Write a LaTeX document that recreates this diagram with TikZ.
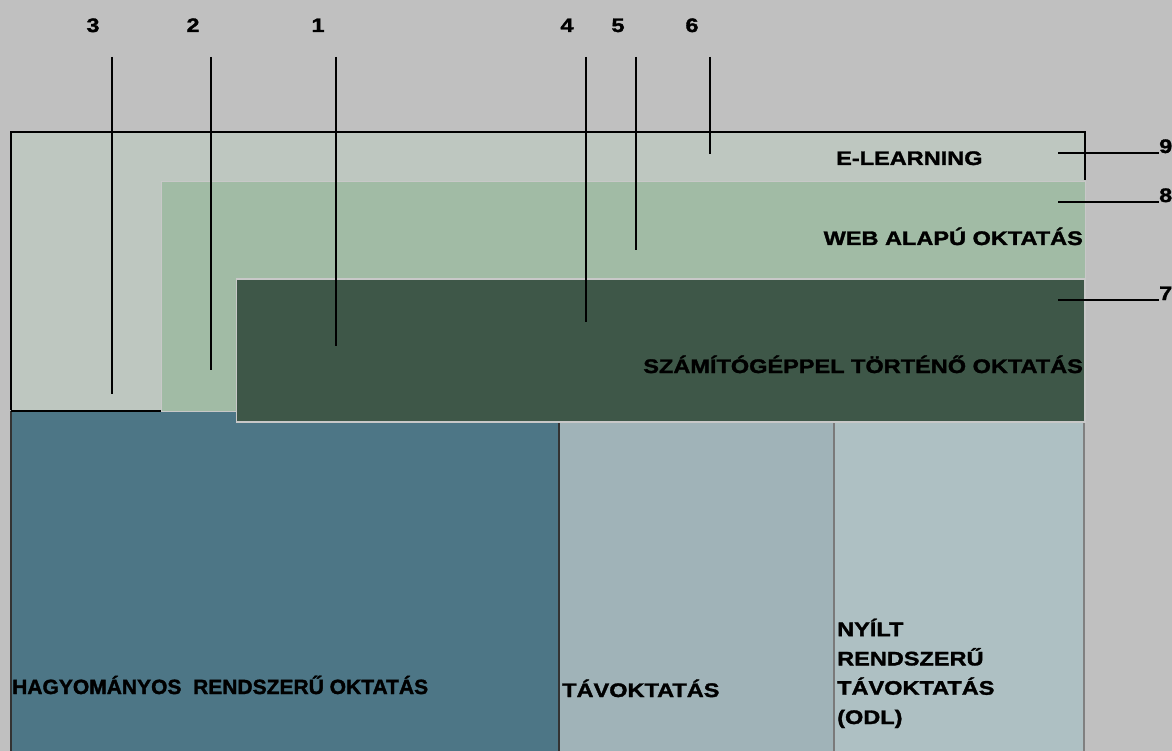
\documentclass[tikz,border=0pt]{standalone}
\usepackage{fontspec}
\setmainfont{Liberation Sans}
\newfontfamily\blk{Liberation Sans Bold}[FakeStretch=1.2, FakeBold=1.6]
\newfontfamily\blkn{Liberation Sans Bold}[FakeStretch=1.02, FakeBold=1.6]
\definecolor{bggray}{HTML}{C0C0C0}
\definecolor{elearn}{HTML}{BEC7C0}
\definecolor{webc}{HTML}{A1BBA5}
\definecolor{compc}{HTML}{3E5748}
\definecolor{hagyc}{HTML}{4D7686}
\definecolor{tavc}{HTML}{A0B3B8}
\definecolor{nyiltc}{HTML}{AEC0C3}
\definecolor{edgelight}{HTML}{C8C8C8}
\tikzset{
  lbl/.style={font=\blk\fontsize{19.6}{29.3}\selectfont, inner sep=0pt, text=black},
  lbln/.style={font=\blkn\fontsize{20.6}{24}\selectfont, inner sep=0pt, text=black},
  num/.style={font=\blk\fontsize{19.5}{23}\selectfont, inner sep=0pt, text=black},
  lead/.style={draw=black, line width=2pt},
  frame/.style={draw=black, line width=2pt}
}
\begin{document}
\begin{tikzpicture}[x=1pt,y=-1pt]
  \clip (0,0) rectangle (1172,751);
  \fill[bggray] (0,0) rectangle (1172,751);

  % lower row of blocks
  \fill[hagyc] (11,411) rectangle (559,760);
  \fill[tavc] (560,411) rectangle (834,760);
  \fill[nyiltc] (835,411) rectangle (1084,760);
  \draw[draw=black!80, line width=1.5pt] (11,411) -- (11,760);
  \draw[draw=black!80, line width=2pt] (559,411) -- (559,760);
  \draw[draw=black!52, line width=1.5pt] (834,411) -- (834,760);
  \draw[draw=black!50, line width=1.5pt] (1084,411) -- (1084,760);

  % nested upper areas
  \fill[elearn] (11,132) rectangle (1085,410);
  \filldraw[fill=webc, draw=edgelight, line width=1pt] (161.5,182) rectangle (1085,411);
  \filldraw[fill=compc, draw=edgelight, line width=1.5pt] (236.5,279) rectangle (1085,422);

  % outline of the e-learning area
  \draw[frame] (11,410) -- (11,132) -- (1085,132) -- (1085,180);
  \draw[frame] (11,410.5) -- (161,410.5);

  % area titles
  \node[lbl, anchor=base west] (tEL) at (836,165) {E-LEARNING};
  \node[lbl, anchor=base east] (tWEB) at (1083,245) {WEB ALAPÚ OKTATÁS};
  \node[lbl, anchor=base east] (tCOMP) at (1083,373) {SZÁMÍTÓGÉPPEL TÖRTÉNŐ OKTATÁS};
  \node[lbln, anchor=base west] (tHAGY) at (12,694) {HAGYOMÁNYOS\ \ RENDSZERŰ OKTATÁS};
  \node[lbl, anchor=base west] (tTAV) at (562,697) {TÁVOKTATÁS};
  \node[lbl, anchor=base west, align=left] (tNY) at (837,724) {NYÍLT\\RENDSZERŰ\\TÁVOKTATÁS\\(ODL)};

  % numbered callouts along the top
  \node[num, anchor=base] (n3) at (93,32) {3};
  \node[num, anchor=base] (n2) at (193,32) {2};
  \node[num, anchor=base] (n1) at (318,32) {1};
  \node[num, anchor=base] (n4) at (567,32) {4};
  \node[num, anchor=base] (n5) at (618,32) {5};
  \node[num, anchor=base] (n6) at (692,32) {6};

  \coordinate (s3) at (112,57);  \coordinate (e3) at (112,394);
  \coordinate (s2) at (211,57);  \coordinate (e2) at (211,370);
  \coordinate (s1) at (336,57);  \coordinate (e1) at (336,346);
  \coordinate (s4) at (586,57);  \coordinate (e4) at (586,322);
  \coordinate (s5) at (636,57);  \coordinate (e5) at (636,250);
  \coordinate (s6) at (710,57);  \coordinate (e6) at (710,154);
  \draw[lead] (s3) -- (e3);
  \draw[lead] (s2) -- (e2);
  \draw[lead] (s1) -- (e1);
  \draw[lead] (s4) -- (e4);
  \draw[lead] (s5) -- (e5);
  \draw[lead] (s6) -- (e6);

  % numbered callouts on the right
  \node[num, anchor=base west] (n9) at (1159,153) {9};
  \node[num, anchor=base west] (n8) at (1159,202) {8};
  \node[num, anchor=base west] (n7) at (1159,300) {7};
  \coordinate (e9) at (1058,153);
  \coordinate (e8) at (1058,202);
  \coordinate (e7) at (1058,300);
  \draw[lead] (e9) -- (n9.base west);
  \draw[lead] (e8) -- (n8.base west);
  \draw[lead] (e7) -- (n7.base west);
\end{tikzpicture}
\end{document}
